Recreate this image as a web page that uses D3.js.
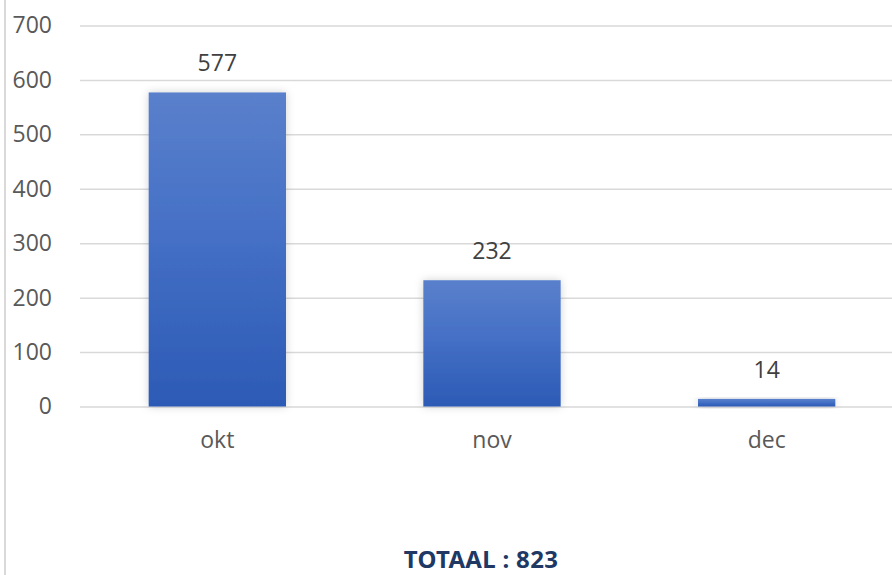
<!DOCTYPE html>
<html lang="nl">
<head>
    <meta charset="UTF-8">
    <title>Totaal per maand</title>
    <script src="https://cdn.jsdelivr.net/npm/d3@7"></script>
    <style>
        body { margin: 0; background: #fff; }
        text { font-family: "Open Sans", "Noto Sans", sans-serif; }
    </style>
</head>
<body>
<script>
    const months = ['okt', 'nov', 'dec']
    const counts = [577, 232, 14]
    const yTicks = [0, 100, 200, 300, 400, 500, 600, 700]
    const totalLabel = 'TOTAAL : 823'

    const [width, height] = [892, 575]
    const x = d3.scaleBand().domain(months).range([80, 904]).paddingInner(0.5).paddingOuter(0.25)
    const y = d3.scaleLinear().domain([0, 700]).range([406.5, 25.5])

    const svg = d3.select('body').append('svg')
        .attr('width', width)
        .attr('height', height)

    const defs = svg.append('defs')
    const grad = defs.append('linearGradient').attr('id', 'barFill')
        .attr('x1', 0).attr('y1', 0).attr('x2', 0).attr('y2', 1)
    grad.append('stop').attr('offset', '0%').attr('stop-color', '#5a80cb')
    grad.append('stop').attr('offset', '45%').attr('stop-color', '#4570c6')
    grad.append('stop').attr('offset', '100%').attr('stop-color', '#2c5ab5')
    const shadow = defs.append('filter').attr('id', 'shadow')
        .attr('x', '-20%').attr('y', '-20%').attr('width', '140%').attr('height', '140%')
    shadow.append('feDropShadow').attr('dx', 0).attr('dy', 0).attr('stdDeviation', 4)
        .attr('flood-color', '#000').attr('flood-opacity', 0.18)

    // left border of the chart box
    svg.append('line')
        .attr('x1', 5).attr('x2', 5).attr('y1', 0).attr('y2', height)
        .attr('stroke', '#d9d9d9').attr('stroke-width', 2)

    // gridlines + y axis labels
    const yAxis = d3.axisLeft(y).tickValues(yTicks).tickSize(-(width - 80)).tickPadding(28)
    const gy = svg.append('g').attr('transform', 'translate(80,0)').call(yAxis)
    gy.select('.domain').remove()
    gy.selectAll('.tick line').attr('stroke', '#d9d9d9').attr('stroke-width', 1.5)
    gy.selectAll('.tick text')
        .attr('fill', '#595959').style('font-size', '23px')

    // bars
    svg.append('g').selectAll('rect').data(counts)
        .enter().append('rect')
        .attr('x', (d, i) => x(months[i]))
        .attr('y', d => y(d))
        .attr('width', x.bandwidth())
        .attr('height', d => y(0) - y(d))
        .attr('fill', 'url(#barFill)')
        .attr('filter', 'url(#shadow)')

    // value labels
    svg.append('g').selectAll('text').data(counts)
        .enter().append('text')
        .attr('x', (d, i) => x(months[i]) + x.bandwidth() / 2)
        .attr('y', d => y(d) - 21)
        .attr('text-anchor', 'middle')
        .attr('fill', '#404040')
        .style('font-size', '23px')
        .text(d => d)

    // category labels
    const xAxis = d3.axisBottom(x).tickSize(0).tickPadding(25)
    const gx = svg.append('g').attr('transform', `translate(0,${y(0)})`).call(xAxis)
    gx.select('.domain').remove()
    gx.selectAll('.tick text').attr('fill', '#595959').style('font-size', '23px')

    svg.append('text')
        .attr('x', 481).attr('y', 568)
        .attr('text-anchor', 'middle')
        .attr('fill', '#203864')
        .style('font-size', '24px')
        .style('font-weight', 'bold')
        .style('letter-spacing', '0.3px')
        .style('font-family', '"Noto Sans", sans-serif')
        .text(totalLabel)
</script>
</body>
</html>
